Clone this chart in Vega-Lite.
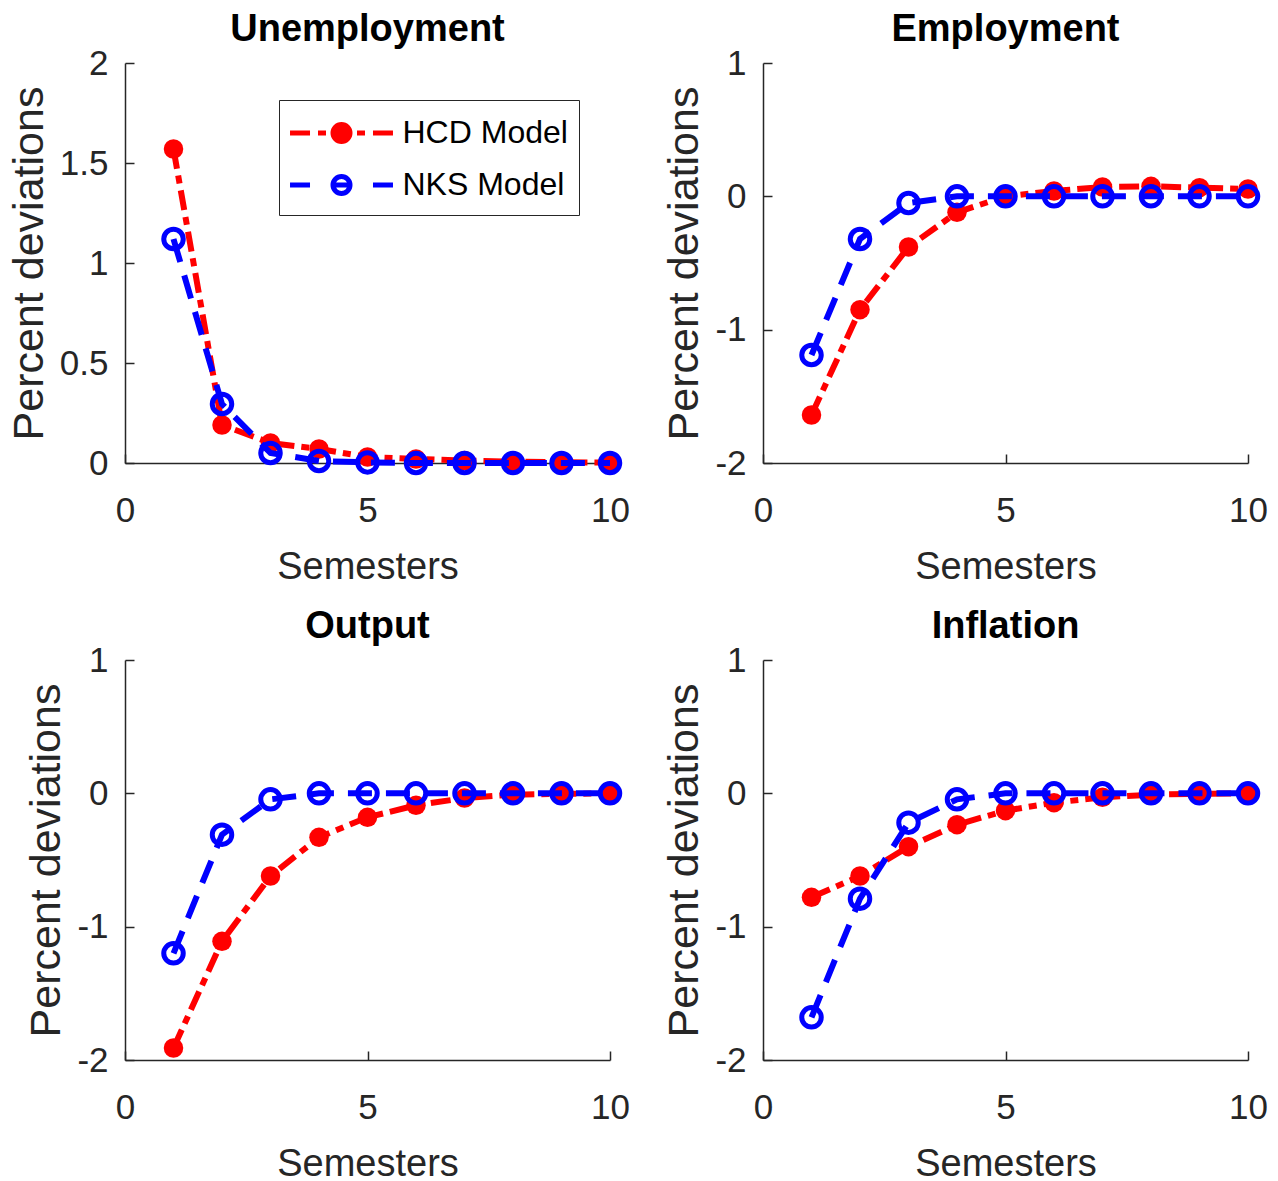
{
  "$schema": "https://vega.github.io/schema/vega-lite/v6.json",
  "padding": {"left": 8, "top": 11, "right": 0, "bottom": 0},
  "background": "white",
  "datasets": {
    "d": [
      {"p": "U", "m": "HCD Model", "t": 1, "v": 1.57},
      {"p": "U", "m": "HCD Model", "t": 2, "v": 0.19},
      {"p": "U", "m": "HCD Model", "t": 3, "v": 0.1},
      {"p": "U", "m": "HCD Model", "t": 4, "v": 0.07},
      {"p": "U", "m": "HCD Model", "t": 5, "v": 0.03},
      {"p": "U", "m": "HCD Model", "t": 6, "v": 0.02},
      {"p": "U", "m": "HCD Model", "t": 7, "v": 0.012},
      {"p": "U", "m": "HCD Model", "t": 8, "v": 0.007},
      {"p": "U", "m": "HCD Model", "t": 9, "v": 0.004},
      {"p": "U", "m": "HCD Model", "t": 10, "v": 0.002},
      {"p": "U", "m": "NKS Model", "t": 1, "v": 1.12},
      {"p": "U", "m": "NKS Model", "t": 2, "v": 0.295},
      {"p": "U", "m": "NKS Model", "t": 3, "v": 0.05},
      {"p": "U", "m": "NKS Model", "t": 4, "v": 0.01},
      {"p": "U", "m": "NKS Model", "t": 5, "v": 0.003},
      {"p": "U", "m": "NKS Model", "t": 6, "v": 0},
      {"p": "U", "m": "NKS Model", "t": 7, "v": 0},
      {"p": "U", "m": "NKS Model", "t": 8, "v": 0},
      {"p": "U", "m": "NKS Model", "t": 9, "v": 0},
      {"p": "U", "m": "NKS Model", "t": 10, "v": 0},
      {"p": "E", "m": "HCD Model", "t": 1, "v": -1.64},
      {"p": "E", "m": "HCD Model", "t": 2, "v": -0.85},
      {"p": "E", "m": "HCD Model", "t": 3, "v": -0.38},
      {"p": "E", "m": "HCD Model", "t": 4, "v": -0.12},
      {"p": "E", "m": "HCD Model", "t": 5, "v": 0.0},
      {"p": "E", "m": "HCD Model", "t": 6, "v": 0.04},
      {"p": "E", "m": "HCD Model", "t": 7, "v": 0.07},
      {"p": "E", "m": "HCD Model", "t": 8, "v": 0.075},
      {"p": "E", "m": "HCD Model", "t": 9, "v": 0.065},
      {"p": "E", "m": "HCD Model", "t": 10, "v": 0.055},
      {"p": "E", "m": "NKS Model", "t": 1, "v": -1.19},
      {"p": "E", "m": "NKS Model", "t": 2, "v": -0.32},
      {"p": "E", "m": "NKS Model", "t": 3, "v": -0.05},
      {"p": "E", "m": "NKS Model", "t": 4, "v": 0.0},
      {"p": "E", "m": "NKS Model", "t": 5, "v": 0},
      {"p": "E", "m": "NKS Model", "t": 6, "v": 0},
      {"p": "E", "m": "NKS Model", "t": 7, "v": 0},
      {"p": "E", "m": "NKS Model", "t": 8, "v": 0},
      {"p": "E", "m": "NKS Model", "t": 9, "v": 0},
      {"p": "E", "m": "NKS Model", "t": 10, "v": 0},
      {"p": "O", "m": "HCD Model", "t": 1, "v": -1.91},
      {"p": "O", "m": "HCD Model", "t": 2, "v": -1.11},
      {"p": "O", "m": "HCD Model", "t": 3, "v": -0.62},
      {"p": "O", "m": "HCD Model", "t": 4, "v": -0.33},
      {"p": "O", "m": "HCD Model", "t": 5, "v": -0.18},
      {"p": "O", "m": "HCD Model", "t": 6, "v": -0.09},
      {"p": "O", "m": "HCD Model", "t": 7, "v": -0.035},
      {"p": "O", "m": "HCD Model", "t": 8, "v": -0.01},
      {"p": "O", "m": "HCD Model", "t": 9, "v": -0.004},
      {"p": "O", "m": "HCD Model", "t": 10, "v": -0.001},
      {"p": "O", "m": "NKS Model", "t": 1, "v": -1.2},
      {"p": "O", "m": "NKS Model", "t": 2, "v": -0.31},
      {"p": "O", "m": "NKS Model", "t": 3, "v": -0.045},
      {"p": "O", "m": "NKS Model", "t": 4, "v": 0.0},
      {"p": "O", "m": "NKS Model", "t": 5, "v": 0},
      {"p": "O", "m": "NKS Model", "t": 6, "v": 0},
      {"p": "O", "m": "NKS Model", "t": 7, "v": 0},
      {"p": "O", "m": "NKS Model", "t": 8, "v": 0},
      {"p": "O", "m": "NKS Model", "t": 9, "v": 0},
      {"p": "O", "m": "NKS Model", "t": 10, "v": 0},
      {"p": "I", "m": "HCD Model", "t": 1, "v": -0.78},
      {"p": "I", "m": "HCD Model", "t": 2, "v": -0.62},
      {"p": "I", "m": "HCD Model", "t": 3, "v": -0.4},
      {"p": "I", "m": "HCD Model", "t": 4, "v": -0.235},
      {"p": "I", "m": "HCD Model", "t": 5, "v": -0.13},
      {"p": "I", "m": "HCD Model", "t": 6, "v": -0.07},
      {"p": "I", "m": "HCD Model", "t": 7, "v": -0.03},
      {"p": "I", "m": "HCD Model", "t": 8, "v": -0.01},
      {"p": "I", "m": "HCD Model", "t": 9, "v": -0.004},
      {"p": "I", "m": "HCD Model", "t": 10, "v": -0.001},
      {"p": "I", "m": "NKS Model", "t": 1, "v": -1.68},
      {"p": "I", "m": "NKS Model", "t": 2, "v": -0.79},
      {"p": "I", "m": "NKS Model", "t": 3, "v": -0.22},
      {"p": "I", "m": "NKS Model", "t": 4, "v": -0.045},
      {"p": "I", "m": "NKS Model", "t": 5, "v": 0.0},
      {"p": "I", "m": "NKS Model", "t": 6, "v": 0},
      {"p": "I", "m": "NKS Model", "t": 7, "v": 0},
      {"p": "I", "m": "NKS Model", "t": 8, "v": 0},
      {"p": "I", "m": "NKS Model", "t": 9, "v": 0},
      {"p": "I", "m": "NKS Model", "t": 10, "v": 0}
    ]
  },
  "data": {"name": "d"},
  "columns": 2,
  "spacing": {"column": 33, "row": 22},
  "align": "each",
  "resolve": {"scale": {"color": "independent"}, "legend": {"color": "independent"}},
  "concat": [
    {
      "width": 485, "height": 400,
      "title": "Unemployment",
      "transform": [{"filter": "datum.p === 'U'"}],
      "encoding": {
        "x": {"field": "t", "type": "quantitative", "title": "Semesters", "scale": {"domain": [0, 10], "nice": false, "zero": false}, "axis": {"values": [0, 5, 10]}},
        "y": {"field": "v", "type": "quantitative", "title": "Percent deviations", "scale": {"domain": [0, 2], "nice": false}, "axis": {"values": [0, 0.5, 1, 1.5, 2]}}
      },
      "layer": [
        {
          "transform": [{"filter": "datum.m === 'HCD Model'"}],
          "mark": {"type": "line", "strokeWidth": 6, "strokeDash": [20, 7, 8, 7]},
          "encoding": {
            "color": {
              "field": "m", "type": "nominal",
              "scale": {"domain": ["HCD Model", "NKS Model"], "range": ["#ff0000", "#0000ff"]},
              "legend": {
                "orient": "none", "legendX": 154, "legendY": 37,
                "title": null, "direction": "vertical",
                "padding": 11, "rowPadding": 11,
                "strokeColor": "#262626", "fillColor": "white",
                "symbolSize": 1521, "symbolStrokeWidth": 5,
                "symbolOffset": 29.5, "labelOffset": 39,
                "labelFont": "Liberation Sans", "labelFontSize": 32, "labelColor": "#000000", "labelLimit": 500,
                "encode": {
                  "symbols": {
                    "update": {
                      "shape": {"signal": "datum.value === 'HCD Model' ? 'M-2.64,0H-1.615M-1.205,0H-0.795M0.795,0H1.205M1.615,0H2.64M-0.436,0A0.436,0.436,0,1,1,0.436,0A0.436,0.436,0,1,1,-0.436,0Z' : 'M-2.64,0H-1.615M1.615,0H2.64M-0.436,0H0.436M-0.436,0A0.436,0.436,0,1,1,0.436,0A0.436,0.436,0,1,1,-0.436,0Z'"},
                      "fill": {"signal": "datum.value === 'HCD Model' ? '#ff0000' : 'transparent'"},
                      "strokeDash": {"value": []},
                      "strokeWidth": {"value": 5},
                      "opacity": {"value": 1}
                    }
                  }
                }
              }
            }
          }
        },
        {"transform": [{"filter": "datum.m === 'HCD Model'"}], "mark": {"type": "point", "filled": true, "size": 380, "opacity": 1, "color": "#ff0000"}},
        {"transform": [{"filter": "datum.m === 'NKS Model'"}], "mark": {"type": "line", "strokeWidth": 6, "strokeDash": [24, 14], "color": "#0000ff"}},
        {"transform": [{"filter": "datum.m === 'NKS Model'"}], "mark": {"type": "point", "filled": false, "size": 380, "strokeWidth": 5, "opacity": 1, "color": "#0000ff"}}
      ]
    },
    {
      "width": 485, "height": 400,
      "title": "Employment",
      "transform": [{"filter": "datum.p === 'E'"}],
      "encoding": {
        "x": {"field": "t", "type": "quantitative", "title": "Semesters", "scale": {"domain": [0, 10], "nice": false, "zero": false}, "axis": {"values": [0, 5, 10]}},
        "y": {"field": "v", "type": "quantitative", "title": "Percent deviations", "scale": {"domain": [-2, 1], "nice": false}, "axis": {"values": [-2, -1, 0, 1]}}
      },
      "layer": [
        {"transform": [{"filter": "datum.m === 'HCD Model'"}], "mark": {"type": "line", "strokeWidth": 6, "strokeDash": [20, 7, 8, 7], "color": "#ff0000"}},
        {"transform": [{"filter": "datum.m === 'HCD Model'"}], "mark": {"type": "point", "filled": true, "size": 380, "opacity": 1, "color": "#ff0000"}},
        {"transform": [{"filter": "datum.m === 'NKS Model'"}], "mark": {"type": "line", "strokeWidth": 6, "strokeDash": [24, 14], "color": "#0000ff"}},
        {"transform": [{"filter": "datum.m === 'NKS Model'"}], "mark": {"type": "point", "filled": false, "size": 380, "strokeWidth": 5, "opacity": 1, "color": "#0000ff"}}
      ]
    },
    {
      "width": 485, "height": 400,
      "title": "Output",
      "transform": [{"filter": "datum.p === 'O'"}],
      "encoding": {
        "x": {"field": "t", "type": "quantitative", "title": "Semesters", "scale": {"domain": [0, 10], "nice": false, "zero": false}, "axis": {"values": [0, 5, 10]}},
        "y": {"field": "v", "type": "quantitative", "title": "Percent deviations", "scale": {"domain": [-2, 1], "nice": false}, "axis": {"values": [-2, -1, 0, 1]}}
      },
      "layer": [
        {"transform": [{"filter": "datum.m === 'HCD Model'"}], "mark": {"type": "line", "strokeWidth": 6, "strokeDash": [20, 7, 8, 7], "color": "#ff0000"}},
        {"transform": [{"filter": "datum.m === 'HCD Model'"}], "mark": {"type": "point", "filled": true, "size": 380, "opacity": 1, "color": "#ff0000"}},
        {"transform": [{"filter": "datum.m === 'NKS Model'"}], "mark": {"type": "line", "strokeWidth": 6, "strokeDash": [24, 14], "color": "#0000ff"}},
        {"transform": [{"filter": "datum.m === 'NKS Model'"}], "mark": {"type": "point", "filled": false, "size": 380, "strokeWidth": 5, "opacity": 1, "color": "#0000ff"}}
      ]
    },
    {
      "width": 485, "height": 400,
      "title": "Inflation",
      "transform": [{"filter": "datum.p === 'I'"}],
      "encoding": {
        "x": {"field": "t", "type": "quantitative", "title": "Semesters", "scale": {"domain": [0, 10], "nice": false, "zero": false}, "axis": {"values": [0, 5, 10]}},
        "y": {"field": "v", "type": "quantitative", "title": "Percent deviations", "scale": {"domain": [-2, 1], "nice": false}, "axis": {"values": [-2, -1, 0, 1]}}
      },
      "layer": [
        {"transform": [{"filter": "datum.m === 'HCD Model'"}], "mark": {"type": "line", "strokeWidth": 6, "strokeDash": [20, 7, 8, 7], "color": "#ff0000"}},
        {"transform": [{"filter": "datum.m === 'HCD Model'"}], "mark": {"type": "point", "filled": true, "size": 380, "opacity": 1, "color": "#ff0000"}},
        {"transform": [{"filter": "datum.m === 'NKS Model'"}], "mark": {"type": "line", "strokeWidth": 6, "strokeDash": [24, 14], "color": "#0000ff"}},
        {"transform": [{"filter": "datum.m === 'NKS Model'"}], "mark": {"type": "point", "filled": false, "size": 380, "strokeWidth": 5, "opacity": 1, "color": "#0000ff"}}
      ]
    }
  ],
  "config": {
    "view": {"stroke": null},
    "font": "Liberation Sans",
    "axis": {
      "grid": false,
      "domainColor": "#262626", "domainWidth": 1.5,
      "tickColor": "#262626", "tickWidth": 1.5, "tickSize": -9,
      "labelFont": "Liberation Sans", "labelFontSize": 35, "labelColor": "#262626",
      "labelFlush": false, "labelOverlap": false, "labelBound": false,
      "labelExpr": "'' + datum.value",
      "titleFont": "Liberation Sans", "titleFontWeight": "normal", "titleColor": "#262626"
    },
    "axisX": {"labelPadding": 39, "titleFontSize": 38, "titlePadding": 20},
    "axisY": {"labelPadding": 26, "titleFontSize": 43, "titlePadding": 8},
    "title": {"font": "Liberation Sans", "fontSize": 38, "fontWeight": "bold", "color": "#000000", "frame": "group", "baseline": "alphabetic", "offset": -3}
  }
}
